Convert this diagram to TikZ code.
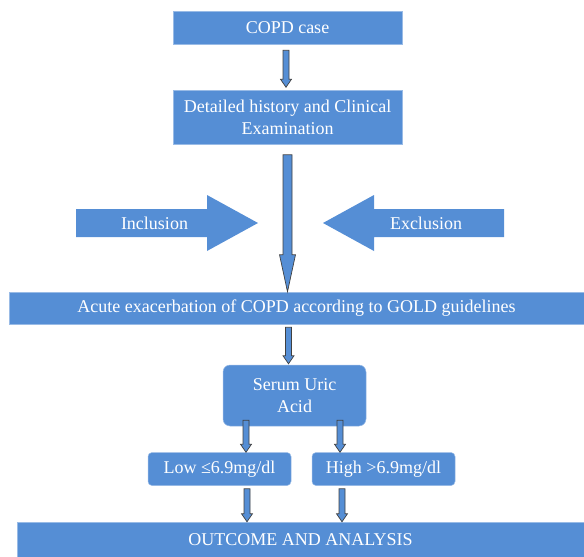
\documentclass[tikz,border=0pt]{standalone}
\usepackage{fontspec}
\setmainfont{Liberation Serif}
\newfontfamily\flowfont{Liberation Serif}
\usetikzlibrary{calc}

\definecolor{flowblue}{RGB}{85,142,213}

\tikzset{
  box/.style={fill=flowblue, draw=flowblue!60!white, line width=0.5pt,
    text=white, font=\flowfont\fontsize{18}{22}\selectfont, align=center, inner sep=0pt},
  roundbox/.style={box, rounded corners=7pt},
  arrowline/.style={draw=black!75, fill=flowblue, line width=0.7pt},
  sidearrow/.style={fill=flowblue},
  sidetext/.style={text=white, font=\flowfont\fontsize{18}{22}\selectfont, inner sep=0pt},
}

% vertical block arrow: start, end, shaft half width, head half width, head length
\newcommand{\flowarrow}[5]{%
  \draw [arrowline] let \p1=#1, \p2=#2 in
    (\x1-#3,\y1) -- (\x1-#3,\y2+#5) -- (\x1-#4,\y2+#5) -- (\x1,\y2)
    -- (\x1+#4,\y2+#5) -- (\x1+#3,\y2+#5) -- (\x1+#3,\y1) -- cycle;}

\begin{document}
\begin{tikzpicture}[x=1pt,y=-1pt]
  \useasboundingbox (0,0) rectangle (584,557);

  \node (case) [box, minimum width=229pt, minimum height=33pt] at (287.5,27.5) {COPD case};
  \node (hist) [box, minimum width=229pt, minimum height=54pt] at (287.5,117.5)
    {Detailed history and Clinical\\Examination};
  \node (acute) [box, minimum width=575pt, minimum height=32pt] at (296.5,308)
    {Acute exacerbation of COPD according to GOLD guidelines};
  \node (uric) [roundbox, minimum width=143pt, minimum height=61pt] at (294.5,395.5)
    {Serum Uric\\Acid};
  \node (low) [roundbox, rounded corners=4pt, minimum width=143pt, minimum height=33pt] at (219.5,469)
    {Low ≤6.9mg/dl};
  \node (high) [roundbox, rounded corners=4pt, minimum width=143pt, minimum height=33pt] at (383.5,469)
    {High >6.9mg/dl};
  \node (outcome) [box, minimum width=567pt, minimum height=35pt] at (300.5,539.5)
    {OUTCOME AND ANALYSIS};

  % inclusion / exclusion
  \fill [sidearrow] (76,209) -- (207,209) -- (207,195) -- (258,223) -- (207,251) -- (207,237) -- (76,237) -- cycle;
  \fill [sidearrow] (504,209) -- (374,209) -- (374,195) -- (323,223) -- (374,251) -- (374,237) -- (504,237) -- cycle;
  \node (incl) [sidetext] at (154.5,223) {Inclusion};
  \node (excl) [sidetext] at (426,223) {Exclusion};

  \flowarrow{([xshift=-1.5pt,yshift=-6pt]case.south)}{([yshift=3pt]hist.north)}{3pt}{5.5pt}{8pt}
  \flowarrow{([yshift=-10pt]hist.south)}{(acute.north)}{4.5pt}{8pt}{37pt}
  \flowarrow{([xshift=-8pt,yshift=-3pt]acute.south)}{([yshift=1pt]uric.north)}{3pt}{5.5pt}{8pt}
  \flowarrow{([xshift=-48.5pt,yshift=6pt]uric.south)}{(low.north)}{3pt}{5.5pt}{8pt}
  \flowarrow{([xshift=45.5pt,yshift=6pt]uric.south)}{(high.north)}{3pt}{5.5pt}{8pt}
  \flowarrow{([xshift=27.5pt,yshift=-3pt]low.south)}{(outcome.north)}{3pt}{5.5pt}{8pt}
  \flowarrow{([xshift=-41.5pt,yshift=-3pt]high.south)}{(outcome.north)}{3pt}{5.5pt}{8pt}
\end{tikzpicture}
\end{document}
